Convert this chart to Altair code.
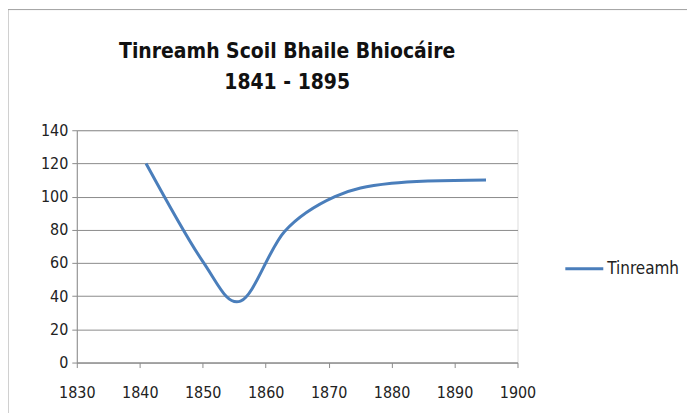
import altair as alt
import pandas as pd

# Data
years = [1841, 1850, 1856, 1863, 1871, 1880, 1895]
attendance = [120, 61, 37, 79, 100, 108, 110]
series_name = ["Tinreamh"] * len(years)
x_ticks = [1830, 1840, 1850, 1860, 1870, 1880, 1890, 1900]
y_ticks = [0, 20, 40, 60, 80, 100, 120, 140]
title_lines = ["Tinreamh Scoil Bhaile Bhiocáire", "1841 - 1895"]

df = pd.DataFrame({"year": years, "value": attendance, "series": series_name})

FONT = "Liberation Sans Narrow, DejaVu Sans Condensed, sans-serif"
BLUE = "#4A7EBB"
GRID = "#8C8C8C"

line = alt.Chart(df).mark_line(interpolate="cardinal", strokeWidth=3).encode(
    x=alt.X(
        "year:Q",
        scale=alt.Scale(domain=[1830, 1900], nice=False, zero=False),
        axis=alt.Axis(
            values=x_ticks, format="d", grid=False, title=None,
            domainColor=GRID, tickColor=GRID, tickSize=5,
            labelFont=FONT, labelFontSize=16, labelColor="#222222",
            labelPadding=17, labelFlush=False,
        ),
    ),
    y=alt.Y(
        "value:Q",
        scale=alt.Scale(domain=[0, 140], nice=False),
        axis=alt.Axis(
            values=y_ticks, grid=True, gridColor=GRID, title=None,
            domainColor=GRID, tickColor=GRID, tickSize=5,
            labelFont=FONT, labelFontSize=16, labelColor="#222222",
            labelPadding=4,
        ),
    ),
    color=alt.Color(
        "series:N",
        scale=alt.Scale(range=[BLUE]),
        legend=alt.Legend(
            title=None, orient="none", legendX=488, legendY=118,
            symbolType="stroke", symbolSize=1450, symbolStrokeWidth=3,
            labelFont=FONT, labelFontSize=17, labelColor="#222222",
            labelOffset=2,
        ),
    ),
)

border_df = pd.DataFrame({"k": [0]})
left_border = alt.Chart(border_df).mark_rule(color="#A0A0A0", strokeWidth=1).encode(
    x=alt.value(-69), y=alt.value(-121), y2=alt.value(300)
)
top_border = alt.Chart(border_df).mark_rule(color="#A0A0A0", strokeWidth=1).encode(
    x=alt.value(-69), x2=alt.value(640), y=alt.value(-121)
)

chart = alt.layer(left_border, top_border, line).properties(
    width=442,
    height=233,
    autosize=alt.AutoSizeParams(type="none"),
    padding={"left": 69, "top": 122, "right": 170, "bottom": 50},
    title=alt.TitleParams(
        text=title_lines, font=FONT, fontSize=21, fontWeight="bold",
        color="#111111", lineHeight=31, anchor="middle", dx=-10, offset=0,
        dy=84, frame="group",
    ),
).configure_view(stroke=None).configure(background="white")

chart.save("out.html", embed_options={"renderer": "svg", "actions": False})
